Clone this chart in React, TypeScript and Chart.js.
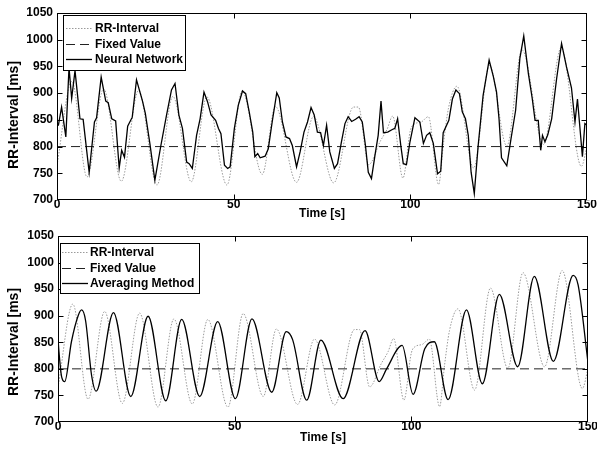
import React, { useEffect, useRef } from "react";
import { Chart, registerables } from "chart.js";

Chart.register(...registerables);

const FONT = "'Liberation Sans', Arial, Helvetica, sans-serif";

// ---- shared axis ticks ----
const xTicks = [0, 50, 100, 150];
const yTicks = [700, 750, 800, 850, 900, 950, 1000, 1050];

// ---- RR-Interval (measured, dotted grey) ----
const rrTime = [0, 4.2, 8.5, 13.2, 18.2, 23.1, 28.3, 32.8, 38.0, 42.4, 48.1, 52.4, 58.1, 61.8, 67.8, 72.6, 78.3, 83.9, 85.3, 88.2, 91.5, 93.4, 95.0, 97.9, 100.0, 101.1, 103.1, 105.1, 108.0, 109.4, 110.8, 113.2, 117.9, 122.4, 127.3, 131.6, 137.7, 142.7, 148.4, 150];
const rrValue = [765, 922, 743, 908, 735, 905, 728, 894, 734, 893, 728, 904, 748, 875, 733, 856, 732, 874, 874, 766, 810, 832, 857, 741, 830, 842, 846, 856, 729, 807, 872, 913, 760, 952, 801, 981, 804, 985, 763, 800];

// ---- Fixed value ----
const fixedTime = [0, 150];
const fixedValue = [800, 800];

// ---- Neural Network estimate ----
const nnTime = [0, 0.4, 1.3, 2.5, 3.4, 4.15, 5.1, 6.5, 7.4, 9.1, 10.6, 11.2, 12.5, 13.8, 14.5, 15.5, 16.6, 17.6, 18.3, 19.1, 20, 21.3, 22.5, 24.2, 25, 26.3, 27.7, 29.4, 31, 32.4, 33.4, 34.5, 35.5, 36.7, 37.4, 38.3, 39.5, 40.5, 41.6, 42.6, 43.6, 44.9, 45.7, 46.4, 47.4, 48.3, 49, 50.2, 51.3, 52.5, 53.4, 54.4, 55.4, 56, 56.8, 57.5, 58.9, 59.8, 60.9, 62.2, 62.9, 63.8, 64.8, 65.8, 66.6, 67.8, 68.8, 69.9, 70.9, 71.9, 72.8, 73.7, 74.6, 75.4, 76.3, 77.2, 78.5, 79.4, 80.5, 81.5, 82.4, 83.4, 84.5, 85.5, 86.4, 87.3, 88.1, 89, 90, 90.9, 91.7, 92.4, 93.6, 94.9, 95.6, 96.4, 97.3, 98, 98.9, 99.9, 101.3, 102.7, 103.7, 104.6, 105.5, 106.5, 107.7, 108.6, 109.3, 110.9, 111.9, 112.9, 113.9, 114.7, 115.6, 116.4, 117.2, 118.1, 119.2, 120.6, 122.3, 123.5, 124.4, 125.1, 125.8, 127.3, 128.5, 129.8, 131, 132.1, 133.4, 134.5, 135.3, 136.2, 136.9, 137.4, 138.1, 138.9, 140, 141.4, 142.8, 144.2, 145.6, 146.6, 147.3, 148.7, 149.4, 150];
const nnValue = [840, 840, 874, 818, 948, 890, 942, 852, 851, 752, 846, 854, 930, 885, 882, 852, 848, 760, 793, 780, 838, 855, 925, 885, 862, 805, 737, 802, 859, 906, 918, 859, 834, 771, 768, 759, 821, 852, 902, 884, 859, 849, 834, 824, 765, 759, 762, 834, 877, 904, 899, 865, 827, 781, 787, 779, 782, 796, 846, 901, 891, 846, 818, 815, 802, 762, 790, 827, 846, 873, 859, 827, 826, 802, 840, 790, 759, 768, 809, 843, 856, 847, 851, 856, 846, 802, 752, 740, 784, 821, 885, 826, 827, 832, 834, 852, 802, 768, 766, 809, 854, 846, 806, 821, 826, 806, 749, 754, 826, 849, 889, 906, 899, 865, 852, 821, 752, 712, 802, 896, 962, 931, 902, 852, 779, 764, 815, 868, 965, 1007, 937, 890, 849, 849, 793, 821, 809, 822, 852, 927, 993, 949, 910, 846, 889, 781, 843, 840];

// ---- Averaging Method estimate ----
const avgTime = [0, 0.3, 1.0, 1.9, 3.8, 5.7, 6.7, 7.8, 9.5, 10.8, 15.7, 20.6, 25.5, 30.5, 35.0, 40.1, 45.2, 50.2, 54.9, 60.5, 64.6, 66.4, 70.4, 74.4, 80.7, 86.9, 90.9, 93.0, 97.4, 100.5, 103.8, 106.5, 110.4, 115.6, 120.1, 124.9, 130.1, 134.8, 140.2, 145.8, 147.2, 150];
const avgValue = [857, 830, 786, 776, 851, 900, 911, 891, 788, 758, 906, 748, 899, 740, 893, 748, 889, 744, 894, 756, 870, 855, 741, 854, 744, 872, 776, 800, 844, 752, 838, 851, 742, 911, 772, 940, 804, 974, 814, 976, 958, 812];

const toPoints = (xs: number[], ys: number[]) => xs.map((x, i) => ({ x, y: ys[i] }));

const framePlugin = {
  id: "matlabFrame",
  afterDraw(chart: any, _args: any, opts: any) {
    const { ctx, chartArea: a, scales } = chart;
    const L = Math.round(a.left) + 0.5;
    const T = Math.round(a.top) + 0.5;
    const R = Math.round(a.right) - 0.5;
    const B = Math.round(a.bottom) - 0.5;
    ctx.save();
    ctx.setLineDash([]);
    ctx.strokeStyle = "#000";
    ctx.lineWidth = 1;
    ctx.beginPath();
    for (const v of xTicks) {
      const px = Math.round(scales.x.getPixelForValue(v)) + 0.5;
      if (px > L + 1 && px < R - 1) {
        ctx.moveTo(px, B); ctx.lineTo(px, B - 5);
        ctx.moveTo(px, T); ctx.lineTo(px, T + 5);
      }
    }
    for (const v of yTicks) {
      const py = Math.round(scales.y.getPixelForValue(v)) + 0.5;
      if (py > T + 1 && py < B - 1) {
        ctx.moveTo(L, py); ctx.lineTo(L + 5, py);
        ctx.moveTo(R, py); ctx.lineTo(R - 5, py);
      }
    }
    ctx.stroke();
    ctx.strokeRect(L, T, R - L, B - T);

    // legend
    const lg = opts.legend;
    ctx.fillStyle = "#fff";
    ctx.fillRect(lg.x, lg.y, lg.w, lg.h);
    ctx.strokeStyle = "#000";
    ctx.lineWidth = 1;
    ctx.strokeRect(lg.x + 0.5, lg.y + 0.5, lg.w, lg.h);
    ctx.font = `bold ${lg.size}px ${FONT}`;
    ctx.textBaseline = "middle";
    ctx.textAlign = "left";
    chart.data.datasets.forEach((ds: any, i: number) => {
      const ry = Math.round(lg.rows[i]) + 0.5;
      ctx.beginPath();
      ctx.setLineDash(ds.borderDash || []);
      ctx.strokeStyle = ds.borderColor;
      ctx.lineWidth = ds.borderWidth;
      ctx.moveTo(lg.sx0, ry);
      ctx.lineTo(lg.sx1, ry);
      ctx.stroke();
      ctx.setLineDash([]);
      ctx.fillStyle = "#000";
      ctx.fillText(ds.label, lg.tx, lg.rows[i] + 0.5);
    });

    // y-axis title
    const yt = opts.yTitle;
    ctx.translate(yt.x, yt.y);
    ctx.rotate(-Math.PI / 2);
    ctx.font = `bold ${yt.size}px ${FONT}`;
    ctx.textAlign = "center";
    ctx.textBaseline = "middle";
    ctx.fillStyle = "#000";
    ctx.fillText(yt.text, 0, 0);
    ctx.restore();
  },
};

type Layout = {
  height: number;
  padTop: number;
  padRight: number;
  yWidth: number;
  xHeight: number;
  titlePad: number;
  legend: any;
  yTitle: any;
};

const TOP: Layout = {
  height: 226,
  padTop: 13,
  padRight: 10,
  yWidth: 57,
  xHeight: 26,
  titlePad: 6,
  legend: { x: 63, y: 15, w: 122, h: 55, rows: [28, 44, 59], sx0: 66, sx1: 92, tx: 95, size: 12 },
  yTitle: { x: 14, y: 115, text: "RR-Interval [ms]", size: 14 },
};

const BOTTOM: Layout = {
  height: 227,
  padTop: 10,
  padRight: 9,
  yWidth: 58,
  xHeight: 31,
  titlePad: 9.5,
  legend: { x: 60, y: 17, w: 139, h: 50, rows: [26, 42, 57], sx0: 62, sx1: 88, tx: 90, size: 12 },
  yTitle: { x: 14, y: 116, text: "RR-Interval [ms]", size: 14 },
};

function buildConfig(lay: Layout, estLabel: string, estX: number[], estY: number[], smoothEst: boolean): any {
  const tickFont = { family: FONT, size: 12, weight: "bold" as const, lineHeight: 1 };
  return {
    type: "line",
    data: {
      datasets: [
        {
          label: "RR-Interval",
          data: toPoints(rrTime, rrValue),
          borderColor: "#9a9a9a",
          borderWidth: 1,
          borderDash: [1.5, 1.5],
          pointRadius: 0,
          tension: 0.4,
          cubicInterpolationMode: "monotone",
          fill: false,
          order: 3,
        },
        {
          label: "Fixed Value",
          data: toPoints(fixedTime, fixedValue),
          borderColor: "#222",
          borderWidth: 1,
          borderDash: [9, 5],
          pointRadius: 0,
          fill: false,
          order: 2,
        },
        {
          label: estLabel,
          data: toPoints(estX, estY),
          borderColor: "#000",
          borderWidth: 1.3,
          pointRadius: 0,
          tension: smoothEst ? 0.4 : 0,
          cubicInterpolationMode: smoothEst ? "monotone" : "default",
          fill: false,
          order: 1,
        },
      ],
    },
    options: {
      animation: false,
      responsive: false,
      events: [],
      layout: { padding: { top: lay.padTop, right: lay.padRight, left: 0, bottom: 0 } },
      plugins: {
        legend: { display: false },
        tooltip: { enabled: false },
        matlabFrame: { legend: lay.legend, yTitle: lay.yTitle },
      },
      scales: {
        x: {
          type: "linear",
          min: 0,
          max: 150,
          afterBuildTicks: (s: any) => {
            s.ticks = xTicks.map((v) => ({ value: v }));
          },
          afterFit: (s: any) => {
            s.height = lay.xHeight;
            s.paddingLeft = 0;
            s.paddingRight = 0;
          },
          ticks: {
            font: tickFont,
            color: "#000",
            padding: -1,
            maxRotation: 0,
            autoSkip: false,
            callback: (v: any) => String(v),
          },
          grid: { display: false, drawTicks: false },
          border: { display: false },
          title: {
            display: true,
            text: "Time [s]",
            color: "#000",
            font: { family: FONT, size: 12, weight: "bold", lineHeight: 1 },
            padding: { top: 0, bottom: lay.titlePad },
          },
        },
        y: {
          type: "linear",
          min: 700,
          max: 1050,
          afterBuildTicks: (s: any) => {
            s.ticks = yTicks.map((v) => ({ value: v }));
          },
          afterFit: (s: any) => {
            s.width = lay.yWidth;
            s.paddingTop = 0;
            s.paddingBottom = 0;
          },
          ticks: {
            font: tickFont,
            color: "#000",
            padding: 4,
            autoSkip: false,
            callback: (v: any) => String(v),
          },
          grid: { display: false, drawTicks: false },
          border: { display: false },
          title: { display: false },
        },
      },
    },
    plugins: [framePlugin],
  };
}

export default function App() {
  const topRef = useRef<HTMLCanvasElement | null>(null);
  const botRef = useRef<HTMLCanvasElement | null>(null);

  useEffect(() => {
    const charts: Chart[] = [];
    if (topRef.current) {
      charts.push(new Chart(topRef.current, buildConfig(TOP, "Neural Network", nnTime, nnValue, false)));
    }
    if (botRef.current) {
      charts.push(new Chart(botRef.current, buildConfig(BOTTOM, "Averaging Method", avgTime, avgValue, true)));
    }
    return () => charts.forEach((c) => c.destroy());
  }, []);

  return (
    <div style={{ position: "absolute", left: 0, top: 0, width: 597, height: 453, background: "#fff" }}>
      <canvas
        ref={topRef}
        width={597}
        height={TOP.height}
        style={{ position: "absolute", left: 0, top: 0, width: 597, height: TOP.height }}
      />
      <canvas
        ref={botRef}
        width={597}
        height={BOTTOM.height}
        style={{ position: "absolute", left: 0, top: TOP.height, width: 597, height: BOTTOM.height }}
      />
    </div>
  );
}
